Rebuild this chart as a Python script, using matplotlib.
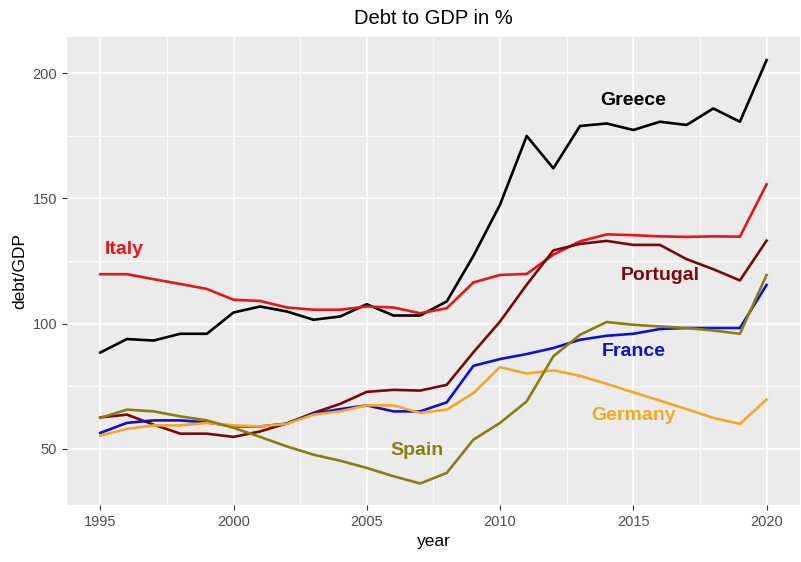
import matplotlib.pyplot as plt
import numpy as np

plt.rcParams['font.family'] = ['Liberation Sans', 'DejaVu Sans']

years = list(range(1995, 2021))

greece = [88.4, 93.8, 93.2, 95.9, 95.9, 104.4, 106.8, 104.8, 101.5, 102.8,
          107.7, 103.2, 103.2, 108.8, 127.0, 147.5, 174.9, 162.0, 178.9, 179.9,
          177.3, 180.6, 179.3, 185.9, 180.6, 205.2]
italy = [119.7, 119.7, 117.7, 115.8, 113.8, 109.5, 109.0, 106.4, 105.5, 105.5,
         106.8, 106.4, 104.1, 106.1, 116.4, 119.4, 119.8, 127.5, 132.8, 135.6,
         135.3, 134.8, 134.6, 134.8, 134.7, 155.6]
portugal = [62.5, 63.6, 59.6, 56.0, 56.0, 54.7, 56.9, 60.1, 64.3, 67.9,
            72.7, 73.5, 73.2, 75.5, 88.5, 100.8, 115.5, 129.2, 131.8, 133.0,
            131.4, 131.4, 125.7, 121.7, 117.2, 133.1]
france = [56.3, 60.3, 61.3, 61.3, 60.5, 58.9, 58.9, 60.0, 64.0, 65.8,
          67.3, 64.9, 64.9, 68.5, 83.1, 85.8, 87.8, 90.2, 93.5, 95.1,
          95.9, 97.8, 98.2, 98.2, 98.2, 115.4]
germany = [55.2, 57.9, 59.3, 59.3, 60.3, 59.3, 58.9, 59.9, 63.6, 64.9,
           67.3, 67.3, 64.3, 65.6, 72.2, 82.6, 80.0, 81.3, 79.1, 75.9,
           72.5, 69.2, 65.8, 62.3, 59.9, 69.6]
spain = [62.3, 65.6, 64.9, 62.9, 61.3, 58.3, 54.7, 50.9, 47.6, 45.2,
         42.3, 39.0, 36.1, 40.3, 53.6, 60.3, 68.9, 86.9, 95.5, 100.6,
         99.5, 98.8, 98.2, 97.2, 95.9, 119.4]

countries = ['Greece', 'Italy', 'Portugal', 'France', 'Germany', 'Spain']
series = [greece, italy, portugal, france, germany, spain]
colors = ['#000000', '#E8141C', '#7A0A0A', '#1010D0', '#F5A623', '#8B7D10']
label_x = [2015, 1995.9, 2016, 2015, 2015, 2006.9]
label_y = [189, 129.5, 119, 88.7, 63.2, 49.2]

fig = plt.figure(figsize=(8.01, 5.62), dpi=100)
ax = fig.add_axes([0.0836, 0.1014, 0.915, 0.833])
ax.set_facecolor('#EBEBEB')

for name, vals, c in zip(countries, series, colors):
    ax.plot(years, vals, color=c, lw=1.9, zorder=3)

for name, c, lx, ly in zip(countries, colors, label_x, label_y):
    ax.text(lx, ly, name, color=c, fontsize=14, fontweight='bold',
            ha='center', va='center', zorder=4)

ax.set_xlim(1993.75, 2021.25)
ax.set_ylim(27.5, 214.5)
ax.set_xticks([1995, 2000, 2005, 2010, 2015, 2020])
ax.set_yticks([50, 100, 150, 200])
ax.set_xticks([1997.5, 2002.5, 2007.5, 2012.5, 2017.5], minor=True)
ax.set_yticks([75, 125, 175], minor=True)
ax.grid(which='major', color='white', lw=1.1, zorder=0)
ax.grid(which='minor', color='white', lw=0.55, zorder=0)
ax.set_axisbelow(True)
for s in ax.spines.values():
    s.set_visible(False)
ax.tick_params(which='major', length=3.5, color='#333333', labelcolor='#4D4D4D',
               labelsize=10.5, width=0.8)
ax.tick_params(which='minor', length=0)

ax.set_title('Debt to GDP in %', fontsize=14.5, pad=9)
ax.set_xlabel('year', fontsize=12.5, labelpad=4)
ax.set_ylabel('debt/GDP', fontsize=12.5, labelpad=4)

fig.savefig('out.png', dpi=100, facecolor='white')
